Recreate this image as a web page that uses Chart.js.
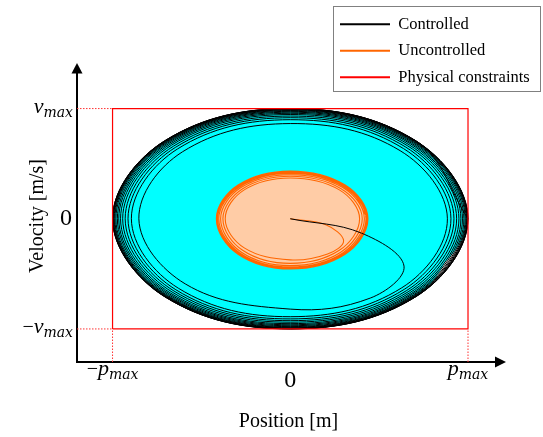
<!DOCTYPE html>
<html>
<head>
<meta charset="utf-8">
<script src="https://cdn.jsdelivr.net/npm/chart.js@4.4.0/dist/chart.umd.min.js"></script>
<style>
  html, body { margin: 0; padding: 0; background: #fff; }
  #wrap { width: 543px; height: 437px; }
</style>
</head>
<body>
<div id="wrap"><canvas id="phaseChart" width="543" height="437"></canvas></div>
<script>
// position / velocity in units of p_max and v_max
const xTicks = [-1, 0, 1];
const xTickLabels = ['−p_max', '0', 'p_max'];
const yTicks = [1, 0, -1];
const yTickLabels = ['v_max', '0', '−v_max'];

// controlled trajectory, starts at origin and spirals out to the constraint box
const ctrlX = [
  0, 0.40, 0.64, 0.45, 0, -0.591, -0.852, -0.607, 0, 0.618,
  0.884, 0.627, 0, -0.630, -0.894, -0.634, 0, 0.637,
  0.904, 0.641, 0, -0.644, -0.913, -0.647, 0, 0.650,
  0.921, 0.653, 0, -0.655, -0.929, -0.658, 0, 0.661,
  0.936, 0.663, 0, -0.665, -0.943, -0.668, 0, 0.670,
  0.949, 0.672, 0, -0.674, -0.955, -0.676, 0, 0.678,
  0.960, 0.680, 0, -0.681, -0.965, -0.683, 0, 0.684,
  0.969, 0.686, 0, -0.687, -0.973, -0.689, 0, 0.690,
  0.977, 0.692, 0, -0.693, -0.981, -0.694, 0, 0.695,
  0.984, 0.696, 0, -0.697, -0.987, -0.698, 0, 0.699,
  0.989, 0.700, 0, -0.700, -0.991, -0.701, 0, 0.702,
  0.993, 0.702, 0, -0.703, -0.995, -0.704, 0, 0.704,
  0.996, 0.705, 0, -0.705, -0.997, -0.705, 0, 0.706,
  0.998, 0.706, 0, -0.706, -0.999, -0.706, 0, 0.706,
  0.999, 0.707, 0, -0.707, -1.0, -0.707, 0, 0.707,
  1.0, 0.707, 0, -0.707, -1.0, -0.707, 0, 0.707,
  1.0
];
const ctrlY = [
  0, -0.13, -0.43, -0.72, -0.82, -0.591, 0, 0.607, 0.864, 0.618,
  0, -0.627, -0.889, -0.630, 0, 0.634, 0.899, 0.637,
  0, -0.641, -0.909, -0.644, 0, 0.647, 0.917, 0.650,
  0, -0.653, -0.925, -0.655, 0, 0.658, 0.932, 0.661,
  0, -0.663, -0.939, -0.665, 0, 0.668, 0.946, 0.670,
  0, -0.672, -0.952, -0.674, 0, 0.676, 0.957, 0.678,
  0, -0.680, -0.962, -0.681, 0, 0.683, 0.967, 0.684,
  0, -0.686, -0.971, -0.687, 0, 0.689, 0.975, 0.690,
  0, -0.692, -0.979, -0.693, 0, 0.694, 0.982, 0.695,
  0, -0.696, -0.985, -0.697, 0, 0.698, 0.988, 0.699,
  0, -0.700, -0.990, -0.700, 0, 0.701, 0.992, 0.702,
  0, -0.702, -0.994, -0.703, 0, 0.704, 0.995, 0.704,
  0, -0.705, -0.997, -0.705, 0, 0.705, 0.998, 0.706,
  0, -0.706, -0.998, -0.706, 0, 0.706, 0.999, 0.706,
  0, -0.707, -0.999, -0.707, 0, 0.707, 1.0, 0.707,
  0, -0.707, -1.0, -0.707, 0, 0.707, 1.0, 0.707,
  0
];

// uncontrolled trajectory, settles on a smaller cycle
const freeX = [
  0, 0.20, 0.30, 0.21, 0, -0.259, -0.366, -0.259, 0, 0.276,
  0.390, 0.276, 0, -0.268, -0.379, -0.268, 0, 0.286,
  0.405, 0.286, 0, -0.277, -0.392, -0.277, 0, 0.295,
  0.417, 0.295, 0, -0.284, -0.402, -0.284, 0, 0.301,
  0.426, 0.301, 0, -0.289, -0.409, -0.289, 0, 0.305,
  0.432, 0.305, 0, -0.292, -0.413, -0.292, 0, 0.308,
  0.435, 0.308, 0, -0.293, -0.415, -0.293, 0, 0.309,
  0.437, 0.309, 0, -0.294, -0.416, -0.294, 0, 0.309,
  0.437, 0.309, 0, -0.294, -0.416, -0.294, 0, 0.309,
  0.437
];
const freeY = [
  0, -0.055, -0.20, -0.32, -0.373, -0.264, 0, 0.262, 0.370, 0.262,
  0, -0.286, -0.405, -0.286, 0, 0.273, 0.386, 0.273,
  0, -0.301, -0.425, -0.301, 0, 0.283, 0.400, 0.283,
  0, -0.310, -0.438, -0.310, 0, 0.291, 0.412, 0.291,
  0, -0.316, -0.447, -0.316, 0, 0.298, 0.422, 0.298,
  0, -0.320, -0.452, -0.320, 0, 0.303, 0.429, 0.303,
  0, -0.322, -0.455, -0.322, 0, 0.305, 0.432, 0.305,
  0, -0.322, -0.456, -0.322, 0, 0.307, 0.434, 0.307,
  0, -0.322, -0.456, -0.322, 0, 0.307, 0.434, 0.307,
  0
];

// limit cycles, used for the filled regions
const ctrlCycleX = [1, 0.707, 0, -0.707, -1, -0.707, 0, 0.707, 1, 0.707];
const ctrlCycleY = [0, -0.707, -1, -0.707, 0, 0.707, 1, 0.707, 0, -0.707];
const freeCycleX = [0.437, 0.309, 0, -0.294, -0.416, -0.294, 0, 0.309, 0.437, 0.309];
const freeCycleY = [0, -0.322, -0.456, -0.322, 0, 0.307, 0.434, 0.307, 0, -0.322];

// physical constraints |p| <= p_max, |v| <= v_max
const boundX = [-1, -1, 1, 1, -1];
const boundY = [-1, 1, 1, -1, -1];
const guideX = [-1.2, -1, null, -1.2, -1, null, -1, -1, null, 1, 1];
const guideY = [1, 1, null, -1, -1, null, -1.3, -1, null, -1.3, -1];

const SERIF = '"Liberation Serif", "Times New Roman", serif';
const pts = (xs, ys) => xs.map((x, i) => ({x: x, y: ys[i]}));

function drawMathLabel(ctx, label, x, y, align) {
  const [base, sub] = label.split('_');
  const parts = [];
  let rest = base;
  if (rest.startsWith('−')) {
    parts.push({text: '−', font: '20px ' + SERIF, dy: 0});
    rest = rest.slice(1);
  }
  if (/^[0-9]/.test(rest)) parts.push({text: rest, font: '24px ' + SERIF, dy: 0});
  else parts.push({text: rest, font: 'italic 22px ' + SERIF, dy: 0});
  if (sub) parts.push({text: sub, font: 'italic 14px "DejaVu Serif"', dy: 4});

  let w = 0;
  parts.forEach(p => { ctx.font = p.font; p.w = ctx.measureText(p.text).width; w += p.w; });
  let cx = align === 'right' ? x - w : (align === 'center' ? x - w / 2 : x);
  parts.forEach(p => {
    ctx.font = p.font;
    ctx.fillText(p.text, cx, y + p.dy);
    cx += p.w;
  });
}

const phaseDecor = {
  id: 'phaseDecor',
  afterUpdate(chart) {
    // float the legend in the top right corner
    const lg = chart.legend;
    if (!lg) return;
    lg.left = 330;
    lg.top = 6;
    lg.right = lg.left + lg.width;
    lg.bottom = lg.top + lg.height;
  },
  afterDraw(chart) {
    const {ctx, chartArea: a, scales: {x, y}} = chart;
    ctx.save();

    ctx.strokeStyle = '#808080';
    ctx.lineWidth = 1;
    ctx.strokeRect(333.5, 6.5, 207, 85);

    // axis arrows
    ctx.fillStyle = '#000';
    ctx.beginPath();
    ctx.moveTo(a.right + 6, a.bottom);
    ctx.lineTo(a.right - 5, a.bottom - 5.5);
    ctx.lineTo(a.right - 5, a.bottom + 5.5);
    ctx.closePath();
    ctx.fill();
    ctx.beginPath();
    ctx.moveTo(a.left, a.top - 7);
    ctx.lineTo(a.left - 5.5, a.top + 3.5);
    ctx.lineTo(a.left + 5.5, a.top + 3.5);
    ctx.closePath();
    ctx.fill();

    // tick labels with subscripts
    ctx.textBaseline = 'alphabetic';
    ctx.textAlign = 'left';
    xTicks.forEach((v, i) => {
      const lbl = xTickLabels[i];
      drawMathLabel(ctx, lbl, x.getPixelForValue(v), a.bottom + (lbl === '0' ? 24.5 : 13), 'center');
    });
    yTicks.forEach((v, i) => {
      const lbl = yTickLabels[i];
      drawMathLabel(ctx, lbl, a.left - (lbl === '0' ? 5 : 4), y.getPixelForValue(v) + (lbl === '0' ? 6.5 : 4), 'right');
    });
    ctx.restore();
  }
};

Chart.defaults.color = '#000';

const ctx = document.getElementById('phaseChart').getContext('2d');
new Chart(ctx, {
  type: 'scatter',
  data: {
    datasets: [
      {
        label: 'Controlled',
        data: pts(ctrlX, ctrlY),
        showLine: true,
        tension: 0.375,
        borderColor: '#000000',
        backgroundColor: '#000000',
        borderWidth: 1,
        pointRadius: 0,
        order: 1
      },
      {
        label: 'Uncontrolled',
        data: pts(freeX, freeY),
        showLine: true,
        tension: 0.375,
        borderColor: '#ff6600',
        backgroundColor: '#ff6600',
        borderWidth: 1.1,
        pointRadius: 0,
        order: 2
      },
      {
        label: 'Physical constraints',
        data: pts(boundX, boundY),
        showLine: true,
        tension: 0,
        borderColor: '#ff0000',
        backgroundColor: '#ff0000',
        borderWidth: 1.2,
        pointRadius: 0,
        order: 0
      },
      {
        label: '',
        data: pts(guideX, guideY),
        showLine: true,
        spanGaps: false,
        borderColor: '#ff3333',
        borderWidth: 1,
        borderDash: [1.5, 1.5],
        pointRadius: 0,
        order: 0
      },
      {
        label: '',
        data: pts(freeCycleX, freeCycleY),
        showLine: true,
        tension: 0.375,
        borderWidth: 0,
        borderColor: 'transparent',
        backgroundColor: '#ffcca6',
        fill: 'shape',
        pointRadius: 0,
        order: 3
      },
      {
        label: '',
        data: pts(ctrlCycleX, ctrlCycleY),
        showLine: true,
        tension: 0.375,
        borderWidth: 0,
        borderColor: 'transparent',
        backgroundColor: '#00ffff',
        fill: 'shape',
        pointRadius: 0,
        order: 4
      }
    ]
  },
  options: {
    responsive: false,
    devicePixelRatio: 1,
    animation: false,
    events: [],
    layout: { padding: { left: 0, right: 43, top: 70, bottom: 0 } },
    scales: {
      x: {
        type: 'linear',
        min: -1.2,
        max: 1.18,
        grid: { display: false, drawTicks: false },
        border: { display: true, color: '#000', width: 2 },
        ticks: { display: false },
        title: {
          display: true,
          text: 'Position [m]',
          color: '#000',
          font: { family: SERIF, size: 20 },
          padding: { top: 0, bottom: 3 }
        },
        afterFit: (scale) => { scale.height = 75; }
      },
      y: {
        type: 'linear',
        min: -1.3,
        max: 1.35,
        grid: { display: false, drawTicks: false },
        border: { display: true, color: '#000', width: 2 },
        ticks: { display: false },
        title: {
          display: true,
          text: 'Velocity [m/s]',
          color: '#000',
          font: { family: SERIF, size: 20 },
          padding: { top: 26, bottom: 0 }
        },
        afterFit: (scale) => { scale.width = 77; }
      }
    },
    plugins: {
      tooltip: { enabled: false },
      legend: {
        display: true,
        position: 'chartArea',
        align: 'start',
        labels: {
          boxWidth: 50,
          boxHeight: 2,
          padding: 10,
          color: '#000',
          font: { family: SERIF, size: 16.5 },
          sort: (a, b) => a.datasetIndex - b.datasetIndex,
          generateLabels(chart) {
            return Chart.defaults.plugins.legend.labels.generateLabels(chart)
              .filter(item => item.text !== '')
              .map(item => Object.assign(item, { fillStyle: item.strokeStyle, lineWidth: 0 }));
          }
        }
      }
    }
  },
  plugins: [phaseDecor]
});
</script>
</body>
</html>
